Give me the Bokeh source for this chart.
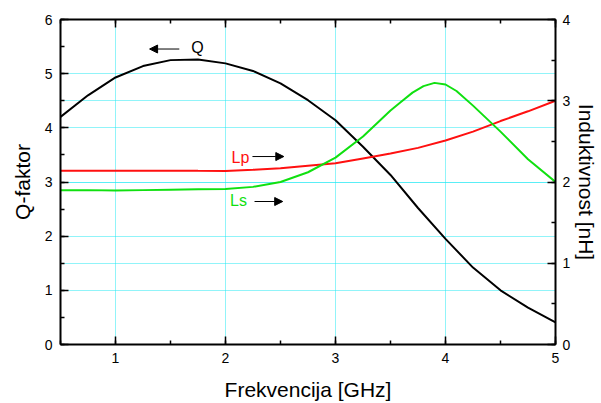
from bokeh.plotting import figure
from bokeh.models import (Range1d, LinearAxis, SingleIntervalTicker, Grid, Label,
                          Arrow, NormalHead, CustomJSTickFormatter)
from bokeh.embed import file_html
from bokeh.resources import INLINE

# Frequency [GHz]
freq = [0.5, 0.75, 1.0, 1.25, 1.5, 1.75, 2.0, 2.25, 2.5, 2.75, 3.0, 3.25, 3.5,
        3.75, 4.0, 4.25, 4.5, 4.75, 5.0]
# Q-factor (left axis)
q_factor = [4.2, 4.6, 4.93, 5.14, 5.25, 5.26, 5.19, 5.05, 4.82, 4.51, 4.14, 3.65,
            3.13, 2.52, 1.95, 1.42, 1.0, 0.68, 0.41]
# Lp [nH] (right axis)
lp = [2.14, 2.14, 2.14, 2.14, 2.14, 2.137, 2.135, 2.15, 2.17, 2.2, 2.23, 2.29,
      2.35, 2.42, 2.51, 2.62, 2.75, 2.87, 3.0]
# Ls [nH] (right axis)
ls_freq = [0.5, 0.75, 1.0, 1.25, 1.5, 1.75, 2.0, 2.25, 2.5, 2.75, 3.0, 3.25, 3.5,
           3.6, 3.7, 3.8, 3.9, 4.0, 4.1, 4.25, 4.5, 4.75, 5.0]
ls = [1.9, 1.9, 1.895, 1.9, 1.905, 1.91, 1.915, 1.94, 2.0, 2.12, 2.3, 2.56, 2.88,
      2.99, 3.1, 3.18, 3.22, 3.2, 3.12, 2.94, 2.62, 2.28, 2.0]

FONT = "Liberation Sans"

p = figure(width=601, height=403, output_backend="svg", toolbar_location=None,
           x_range=Range1d(0.5, 5), y_range=Range1d(0, 6),
           min_border_left=60, min_border_right=46, min_border_top=19,
           min_border_bottom=59)
p.outline_line_color = None
p.extra_y_ranges = {"L": Range1d(0, 4)}

xt = SingleIntervalTicker(interval=1, num_minor_ticks=2)
yt = SingleIntervalTicker(interval=1, num_minor_ticks=2)
lt = SingleIntervalTicker(interval=1, num_minor_ticks=2)

bottom = p.below[0]
left = p.left[0]
bottom.ticker = xt
left.ticker = yt

right = LinearAxis(y_range_name="L", ticker=lt)
top = LinearAxis(ticker=xt, formatter=CustomJSTickFormatter(code="return ''"))
p.add_layout(right, "right")
p.add_layout(top, "above")

for ax in [bottom, left, right, top]:
    ax.axis_line_width = 2
    ax.axis_line_color = "black"
    ax.major_tick_in = 8
    ax.major_tick_out = 0
    ax.minor_tick_in = 4
    ax.minor_tick_out = 0
    ax.major_tick_line_width = 1.5
    ax.minor_tick_line_width = 1.5
    ax.major_tick_line_color = "black"
    ax.minor_tick_line_color = "black"
    ax.major_label_text_font = FONT
    ax.major_label_text_font_size = "14px"
    ax.major_label_text_color = "black"
    ax.major_label_standoff = 8
    ax.axis_label_text_font = FONT
    ax.axis_label_text_font_size = "21px"
    ax.axis_label_text_font_style = "normal"
    ax.axis_label_text_color = "black"
    ax.axis_label_standoff = 10

top.major_label_standoff = 0
right.major_label_standoff = 7
right.axis_label_standoff = 2
left.axis_label_standoff = 8
bottom.axis_label_standoff = 12

bottom.axis_label = "Frekvencija [GHz]"
left.axis_label = "Q-faktor"
right.axis_label = "Induktivnost [nH]"

grid_color = "#22e8f2"
p.xgrid[0].ticker = xt
p.ygrid[0].ticker = yt
for g in [p.xgrid[0], p.ygrid[0]]:
    g.grid_line_color = grid_color
    g.grid_line_dash = "1 1"
    g.grid_line_width = 1
lgrid = Grid(dimension=1, y_range_name="L", ticker=lt, grid_line_color=grid_color,
             grid_line_dash="1 1", grid_line_width=1)
p.add_layout(lgrid)

p.line(freq, q_factor, line_color="black", line_width=2)
p.line(freq, lp, line_color="#ff1010", line_width=2, y_range_name="L")
p.line(ls_freq, ls, line_color="#10e010", line_width=2, y_range_name="L")

# annotations
p.add_layout(Label(x=1.745, y=5.48, text="Q", text_font=FONT, text_font_size="16px",
                   text_color="black", text_align="center", text_baseline="middle"))
p.add_layout(Arrow(x_start=1.58, y_start=5.455, x_end=1.31, y_end=5.455,
                   line_width=1, line_color="black",
                   end=NormalHead(size=8, fill_color="black", line_color="black")))
p.add_layout(Label(x=2.136, y=3.45, text="Lp", text_font=FONT, text_font_size="16px",
                   text_color="#ff1010", text_align="center", text_baseline="middle"))
p.add_layout(Arrow(x_start=2.245, y_start=3.47, x_end=2.53, y_end=3.47,
                   line_width=1, line_color="black",
                   end=NormalHead(size=8, fill_color="black", line_color="black")))
p.add_layout(Label(x=2.118, y=2.66, text="Ls", text_font=FONT, text_font_size="16px",
                   text_color="#10e010", text_align="center", text_baseline="middle"))
p.add_layout(Arrow(x_start=2.264, y_start=2.64, x_end=2.52, y_end=2.64,
                   line_width=1, line_color="black",
                   end=NormalHead(size=8, fill_color="black", line_color="black")))

open("out.html", "w").write(file_html(p, INLINE))
